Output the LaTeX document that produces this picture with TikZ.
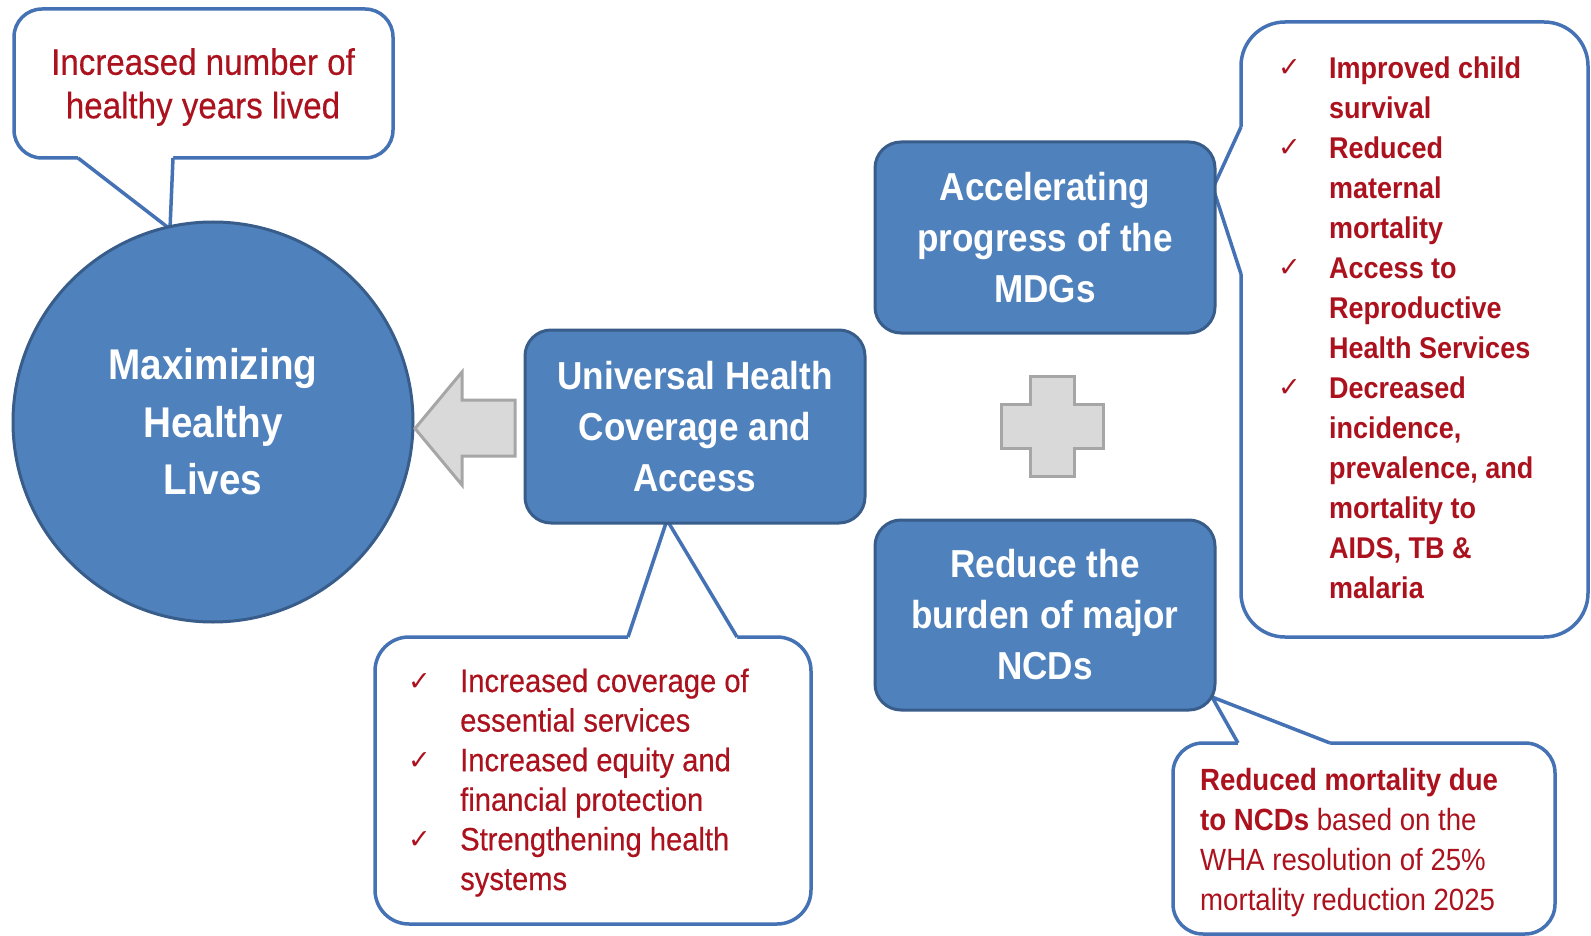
\documentclass[tikz,border=0pt]{standalone}
\usepackage{fontspec}
\setmainfont{Liberation Sans}[FakeStretch=0.9]
\newfontfamily\medfont{Liberation Sans}[FakeStretch=0.9, FakeBold=0.35]
\newfontfamily\chkfont{DejaVu Sans}

\definecolor{boxblue}{RGB}{79,129,189}
\definecolor{boxedge}{RGB}{56,93,138}
\definecolor{calloutedge}{RGB}{68,114,180}
\definecolor{textred}{RGB}{172,18,30}
\definecolor{shapegray}{RGB}{217,217,217}
\definecolor{shapegrayedge}{RGB}{166,166,166}

% check mark used as the list bullet, in a box of fixed width
\newcommand{\chk}[1]{\makebox[#1][l]{\raisebox{2pt}{\chkfont\fontsize{27}{27}\selectfont\color{textred}✓}}}

\tikzset{
  bluebox/.style={draw=boxedge, line width=3pt, fill=boxblue, rounded corners=26pt,
    text=white, font=\bfseries\fontsize{39}{51}\selectfont, align=center, inner sep=0pt},
  calloutbox/.style={draw=calloutedge, line width=3.5pt, fill=white, inner sep=0pt},
  pointer/.style={draw=calloutedge, line width=3.5pt},
  redtext/.style={text=textred, inner sep=0pt},
  grayshape/.style={draw=shapegrayedge, line width=3pt, fill=shapegray},
}

\begin{document}
\begin{tikzpicture}[x=1pt, y=-1pt]
\useasboundingbox (0,0) rectangle (1591,936);
\fill[white] (0,0) rectangle (1591,936);

% ---- callout frames (drawn first so the main shapes sit on top) ----
\node[calloutbox, rounded corners=28pt, minimum width=379, minimum height=149] (hyl) at (203.5,83.5) {};
\fill[white] (78,154) -- (78,158) -- (170,229) -- (173,158) -- (173,154) -- cycle;
\draw[pointer] (78,158) -- (170,229) -- (173,158);

\node[calloutbox, rounded corners=34pt, minimum width=436, minimum height=287] (uhcnote) at (593,780.5) {};
\fill[white] (628,641) -- (628,637) -- (667,520) -- (737,637) -- (737,641) -- cycle;
\draw[pointer] (628,637) -- (667,520) -- (737,637);

\node[calloutbox, rounded corners=44pt, minimum width=347, minimum height=615] (mdgnote) at (1414.5,329.5) {};
\fill[white] (1245,127) -- (1241,127) -- (1213,188) -- (1241,274) -- (1245,274) -- cycle;
\draw[pointer] (1241,127) -- (1213,188) -- (1241,274);

\node[calloutbox, rounded corners=30pt, minimum width=382, minimum height=191] (ncdnote) at (1364,838.5) {};
\fill[white] (1238,747) -- (1238,743) -- (1212,697) -- (1330,743) -- (1330,747) -- cycle;
\draw[pointer] (1238,743) -- (1212,697) -- (1330,743);

% ---- main shapes ----
\node[circle, draw=boxedge, line width=3pt, fill=boxblue, minimum size=400, inner sep=0pt,
  text=white, font=\bfseries\fontsize{43}{57.5}\selectfont, align=center]
  (mhl) at (213,422) {Maximizing\\Healthy\\Lives};

\node[bluebox, minimum width=340, minimum height=193] (uhc) at (695,426.5)
  {Universal Health\\Coverage and\\Access};
\node[bluebox, minimum width=340, minimum height=191] (mdg) at (1045,237.5)
  {Accelerating\\progress of the\\MDGs};
\node[bluebox, minimum width=340, minimum height=190] (ncd) at (1045,615)
  {Reduce the\\burden of major\\NCDs};

% block arrow from the coverage box to the circle
\draw[grayshape] (515,400) -- (462,400) -- (462,372) -- (415,428.5) -- (462,485)
  -- (462,456) -- (515,456) -- cycle;

% plus sign between the two goal boxes
\draw[grayshape] (1030,376) -- (1074,376) -- (1074,404) -- (1103,404) -- (1103,448)
  -- (1074,448) -- (1074,476) -- (1030,476) -- (1030,448) -- (1001,448) -- (1001,404)
  -- (1030,404) -- cycle;

% ---- callout texts ----
\node[redtext, align=center, font=\medfont\fontsize{36.8}{43.5}\selectfont] (hyltext) at (203,87)
  {Increased number of\\healthy years lived};

\node[redtext, anchor=base west, font=\medfont\fontsize{32.4}{39.6}\selectfont] (uhctext) at (408,692)
  {\begin{tabular}[t]{@{}l@{}l@{}}
  \chk{52pt} & Increased coverage of\\
             & essential services\\
  \chk{52pt} & Increased equity and\\
             & financial protection\\
  \chk{52pt} & Strengthening health\\
             & systems
  \end{tabular}};

\node[redtext, anchor=base west, font=\bfseries\fontsize{30}{40}\selectfont] (mdgtext) at (1278,79)
  {\begin{tabular}[t]{@{}l@{}l@{}}
  \chk{51pt} & Improved child\\
             & survival\\
  \chk{51pt} & Reduced\\
             & maternal\\
             & mortality\\
  \chk{51pt} & Access to\\
             & Reproductive\\
             & Health Services\\
  \chk{51pt} & Decreased\\
             & incidence,\\
             & prevalence, and\\
             & mortality to\\
             & AIDS, TB \&\\
             & malaria
  \end{tabular}};

\node[redtext, anchor=base west, font=\fontsize{30.7}{40}\selectfont] (ncdtext) at (1200,790)
  {\begin{tabular}[t]{@{}l@{}}
  \textbf{Reduced mortality due}\\
  \textbf{to NCDs} based on the\\
  WHA resolution of 25\%\\
  mortality reduction 2025
  \end{tabular}};
\end{tikzpicture}
\end{document}
